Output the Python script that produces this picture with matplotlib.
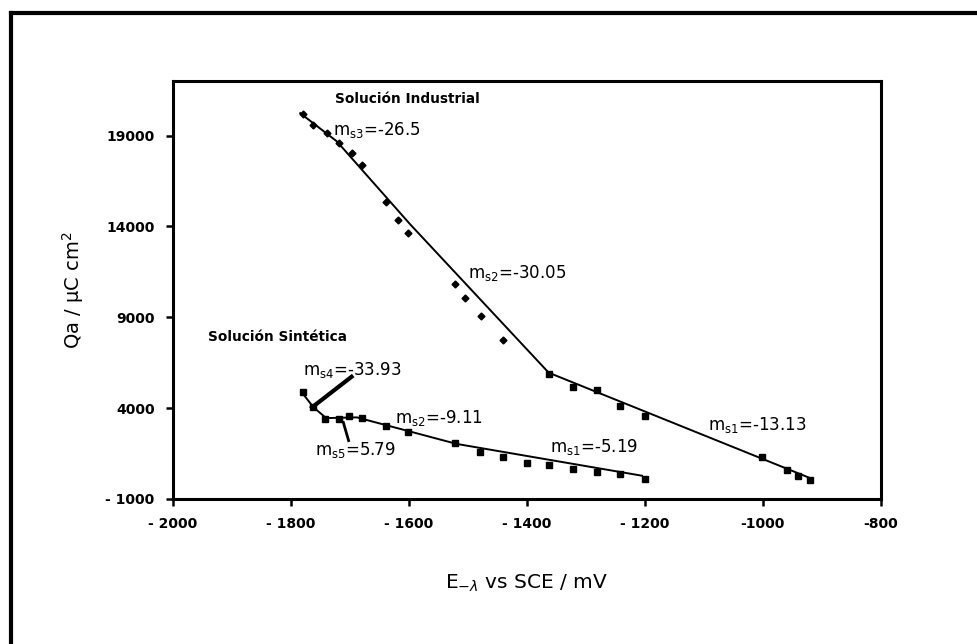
import matplotlib.pyplot as plt
from matplotlib.lines import Line2D

plt.rcParams['font.family'] = ['DejaVu Sans']

# industrial solution, upper part (diamonds) and lower part (squares)
ind_hi_x = [-1779, -1762, -1739, -1719, -1697, -1680, -1638, -1618, -1601,
            -1521, -1505, -1477, -1440]
ind_hi_y = [20180, 19600, 19140, 18590, 18040, 17400, 15350, 14350, 13650,
            10830, 10060, 9080, 7750]
ind_lo_x = [-1363, -1321, -1281, -1242, -1200, -1002, -959, -941, -921]
ind_lo_y = [5900, 5140, 4990, 4130, 3580, 1330, 600, 290, 60]

# synthetic solution
sin_x = [-1779, -1762, -1742, -1719, -1701, -1680, -1638, -1601, -1522,
         -1479, -1440, -1400, -1363, -1321, -1281, -1242, -1200]
sin_y = [4860, 4080, 3400, 3400, 3580, 3460, 3040, 2670, 2060,
         1570, 1330, 970, 890, 660, 470, 380, 110]

# piecewise fits
fit_ind_x = [-1784, -1722, -1598, -1363, -917]
fit_ind_y = [20230, 18680, 14125, 5950, 110]
fit_sin_x = [-1782, -1762, -1740, -1688, -1519, -1205]
fit_sin_y = [4900, 4060, 3450, 3490, 2030, 280]

xticks = [-2000, -1800, -1600, -1400, -1200, -1000, -800]
xticklabels = ['- 2000', '- 1800', '- 1600', '- 1400', '- 1200', '-1000', '-800']
yticks = [-1000, 4000, 9000, 14000, 19000]
yticklabels = ['- 1000', '4000', '9000', '14000', '19000']

fig = plt.figure(figsize=(9.77, 6.44), dpi=100)
ax = fig.add_axes([0.1768, 0.2252, 0.7249, 0.649])

ax.plot(fit_ind_x, fit_ind_y, color='black', lw=1.4)
ax.plot(fit_sin_x, fit_sin_y, color='black', lw=1.4)
ax.plot(ind_hi_x, ind_hi_y, 'D', color='black', ms=3.5, ls='none')
ax.plot(ind_lo_x, ind_lo_y, 's', color='black', ms=4.5, ls='none')
ax.plot(sin_x, sin_y, 's', color='black', ms=4, ls='none')

# leader lines for the small segments
ax.plot([-1764, -1697], [4040, 5725], color='black', lw=3)
ax.plot([-1711, -1702], [3216, 2212], color='black', lw=2)

tk = dict(fontsize=9.8, fontweight='bold', va='center')
ax.text(-1603, 20990, 'Solución Industrial', ha='center', **tk)
ax.text(-1941, 7920, 'Solución Sintética', ha='left', **tk)
lk = dict(fontsize=12, va='center')
ax.text(-1728, 19300, r'm$_\mathrm{s3}$=-26.5', **lk)
ax.text(-1500, 11430, r'm$_\mathrm{s2}$=-30.05', **lk)
ax.text(-1093, 3090, r'm$_\mathrm{s1}$=-13.13', **lk)
ax.text(-1779, 6110, r'm$_\mathrm{s4}$=-33.93', **lk)
ax.text(-1623, 3447, r'm$_\mathrm{s2}$=-9.11', **lk)
ax.text(-1759, 1718, r'm$_\mathrm{s5}$=5.79', **lk)
ax.text(-1361, 1882, r'm$_\mathrm{s1}$=-5.19', **lk)

ax.set_xlim(-2000, -800)
ax.set_ylim(-1000, 22000)
ax.set_xticks(xticks)
ax.set_xticklabels(xticklabels)
ax.set_yticks(yticks)
ax.set_yticklabels(yticklabels)
ax.tick_params(direction='out', length=5, width=1.8, labelsize=10, pad=8)
for lbl in ax.get_xticklabels() + ax.get_yticklabels():
    lbl.set_fontweight('bold')
for s in ax.spines.values():
    s.set_linewidth(2.2)

ax.set_xlabel(r'E$_{-λ}$ vs SCE / mV', fontsize=14.5, labelpad=30)
ax.set_ylabel(r'Qa / µC cm$^2$', fontsize=14, labelpad=14)

# outer frame (left and top edges)
fig.add_artist(Line2D([11 / 977, 11 / 977], [0, 1 - 13 / 644],
                      transform=fig.transFigure, color='black', lw=3))
fig.add_artist(Line2D([11 / 977, 1], [1 - 13 / 644, 1 - 13 / 644],
                      transform=fig.transFigure, color='black', lw=3))

fig.savefig('out.png', dpi=100)
